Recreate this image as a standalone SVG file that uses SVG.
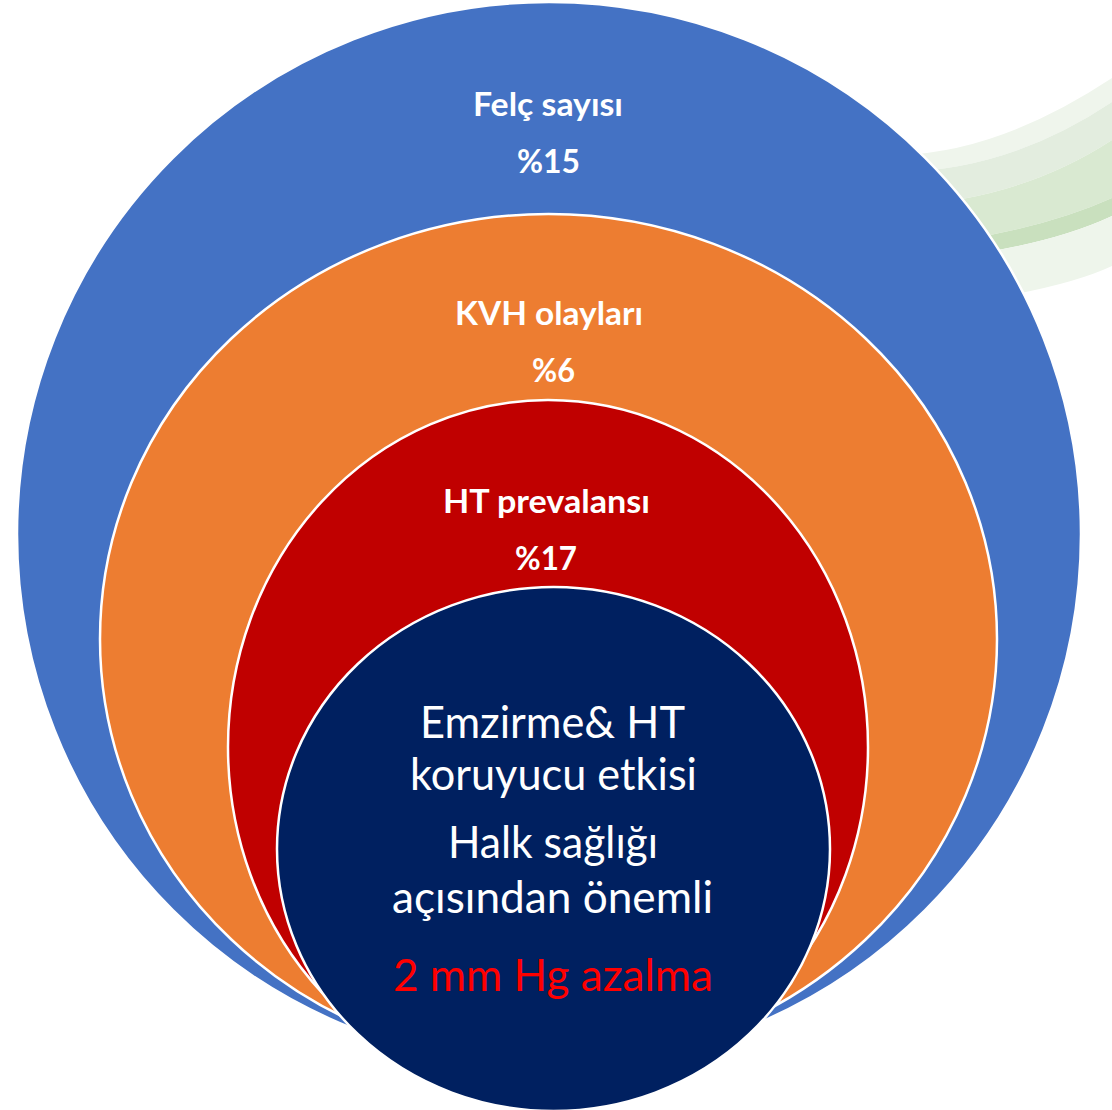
<svg xmlns="http://www.w3.org/2000/svg" width="1112" height="1110" viewBox="0 0 1112 1110">
<style>
.ring{stroke:#FFFFFF;stroke-width:2.5}
.lbl{font-family:Lato,"Liberation Sans",sans-serif;font-weight:bold;font-size:32px;fill:#FFFFFF;text-anchor:middle}
.body{font-family:Lato,"Liberation Sans",sans-serif;font-size:44px;fill:#FFFFFF;text-anchor:middle}
.hl{fill:#FF0000}
</style>
<rect width="1112" height="1110" fill="#FFFFFF"/>
<g id="swoosh">
<path d="M900 155 Q1000 152 1112 78 L1112 102 Q1010 170 900 172 Z" fill="#EFF5EC"/>
<path d="M900 172 Q1010 170 1112 102 L1112 140 Q1020 200 900 206 Z" fill="#E3EDDF"/>
<path d="M900 206 Q1020 200 1112 140 L1112 198 Q1030 235 900 248 Z" fill="#D9E9D1"/>
<path d="M900 248 Q1030 235 1112 198 L1112 216 Q1035 252 900 262 Z" fill="#C9E0BE"/>
<path d="M900 262 Q1035 252 1112 216 L1112 266 Q1050 295 900 310 Z" fill="#EEF5EB"/>
</g>
<g id="node-felc">
<circle class="ring" cx="549" cy="534" r="532" fill="#4472C4"/>
<text class="lbl" x="548" y="116" textLength="150" lengthAdjust="spacingAndGlyphs">Felç sayısı</text>
<text class="lbl" x="548.5" y="173" textLength="63" lengthAdjust="spacingAndGlyphs">%15</text>
</g>
<g id="node-kvh">
<ellipse class="ring" cx="548.5" cy="639" rx="448.5" ry="425" fill="#ED7D31"/>
<text class="lbl" x="549" y="325" textLength="188" lengthAdjust="spacingAndGlyphs">KVH olayları</text>
<text class="lbl" x="553.5" y="382" textLength="43" lengthAdjust="spacingAndGlyphs">%6</text>
</g>
<g id="node-ht">
<ellipse class="ring" cx="548" cy="747" rx="320" ry="347" fill="#C00000"/>
<text class="lbl" x="546.5" y="513" textLength="207" lengthAdjust="spacingAndGlyphs">HT prevalansı</text>
<text class="lbl" x="546" y="570" textLength="62" lengthAdjust="spacingAndGlyphs">%17</text>
</g>
<g id="node-emzirme">
<ellipse class="ring" cx="553.5" cy="849" rx="276.5" ry="262" fill="#002060"/>
<text class="body" x="552.5" y="738" textLength="265" lengthAdjust="spacingAndGlyphs">Emzirme&amp; HT</text>
<text class="body" x="553.5" y="790" textLength="287" lengthAdjust="spacingAndGlyphs">koruyucu etkisi</text>
<text class="body" x="553" y="858" textLength="210" lengthAdjust="spacingAndGlyphs">Halk sağlığı</text>
<text class="body" x="552.5" y="913" textLength="321" lengthAdjust="spacingAndGlyphs">açısından önemli</text>
<text class="body hl" x="553" y="991" textLength="320" lengthAdjust="spacingAndGlyphs">2 mm Hg azalma</text>
</g>
<g id="connectors"/>
</svg>
